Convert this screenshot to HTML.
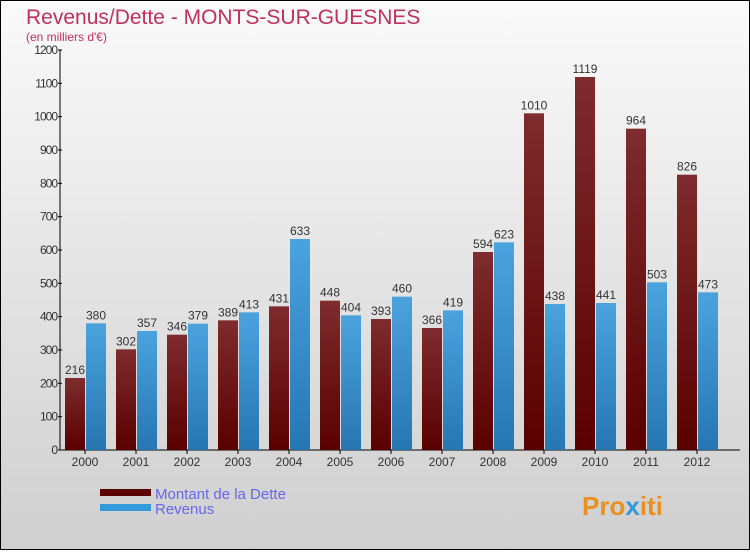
<!DOCTYPE html>
<html><head><meta charset="utf-8"><style>
body{margin:0;width:750px;height:550px;overflow:hidden;font-family:"Liberation Sans",sans-serif}
</style></head><body>
<svg width="750" height="550">
<defs>
<linearGradient id="bg" x1="0" y1="0" x2="0" y2="1"><stop offset="0" stop-color="#fafafa"/><stop offset="1" stop-color="#cfcfcf"/></linearGradient>
<linearGradient id="gd" x1="0" y1="0" x2="0" y2="1"><stop offset="0" stop-color="#7e2c2e"/><stop offset="1" stop-color="#5a0000"/></linearGradient>
<linearGradient id="gr" x1="0" y1="0" x2="0" y2="1"><stop offset="0" stop-color="#4ba3de"/><stop offset="1" stop-color="#2676b2"/></linearGradient>
</defs>
<rect x="0.5" y="0.5" width="749" height="549" fill="url(#bg)" stroke="#000"/>
<text x="26" y="24" font-size="21" fill="#c0305c">Revenus/Dette - MONTS-SUR-GUESNES</text>
<text x="26" y="41" font-size="12" fill="#c0305c">(en milliers d'€)</text>
<g id="axes"></g>
<g id="bars"></g>
<rect x="100" y="489" width="51" height="7" fill="#5a0000"/>
<rect x="100" y="504" width="51" height="7" fill="#3399dd"/>
<text x="155" y="499" font-size="15" fill="#6666ee">Montant de la Dette</text>
<text x="155" y="514" font-size="15" fill="#6666ee">Revenus</text>
<text x="582" y="515" font-size="26" font-weight="bold" fill="#e89020">Pro<tspan fill="#3399dd">x</tspan>iti</text>
</svg>
<script>
const years=[2000,2001,2002,2003,2004,2005,2006,2007,2008,2009,2010,2011,2012];
const dette=[216,302,346,389,431,448,393,366,594,1010,1119,964,826];
const revenus=[380,357,379,413,633,404,460,419,623,438,441,503,473];
const yTicks=[0,100,200,300,400,500,600,700,800,900,1000,1100,1200];
const NS="http://www.w3.org/2000/svg";
const y=v=>450-v*400/1200;
const xc=i=>85+i*51;
function mk(tag,at,parent){const e=document.createElementNS(NS,tag);for(const k in at)e.setAttribute(k,at[k]);parent.appendChild(e);return e;}
const ax=document.getElementById('axes'),bg=document.getElementById('bars');
let l=mk('line',{x1:60,y1:50,x2:60,y2:450,stroke:'#000'},ax);


l=mk('line',{x1:60,y1:450,x2:740,y2:450,stroke:'#000'},ax);


yTicks.forEach(v=>{
 const t=mk('line',{x1:58,x2:62,y1:y(v),y2:y(v),stroke:'#000'},ax);
 
 
 const tx=mk('text',{x:57,y:y(v)+4,'font-size':12,fill:'#333','text-anchor':'end','letter-spacing':'-1'},ax);
 tx.textContent=v;
 
 
});
years.forEach((yr,i)=>{
 const c=xc(i);
 const tk=mk('line',{x1:c,x2:c,y1:450,y2:454,stroke:'#000'},ax);
 
 
 const tx=mk('text',{x:c,y:466,'font-size':12,fill:'#333','text-anchor':'middle'},ax);
 tx.textContent=yr;
 
 
 const b1=mk('rect',{x:c-20,y:y(dette[i]),width:20,height:450-y(dette[i]),fill:'url(#gd)'},bg);
 
 
 const b2=mk('rect',{x:c+1,y:y(revenus[i]),width:20,height:450-y(revenus[i]),fill:'url(#gr)'},bg);
 
 
 const v1=mk('text',{x:c-10,y:y(dette[i])-4,'font-size':12,fill:'#333','text-anchor':'middle'},bg);
 v1.textContent=dette[i];
 
 
 const v2=mk('text',{x:c+11,y:y(revenus[i])-4,'font-size':12,fill:'#333','text-anchor':'middle'},bg);
 v2.textContent=revenus[i];
 
 
});
</script>
</body></html>
